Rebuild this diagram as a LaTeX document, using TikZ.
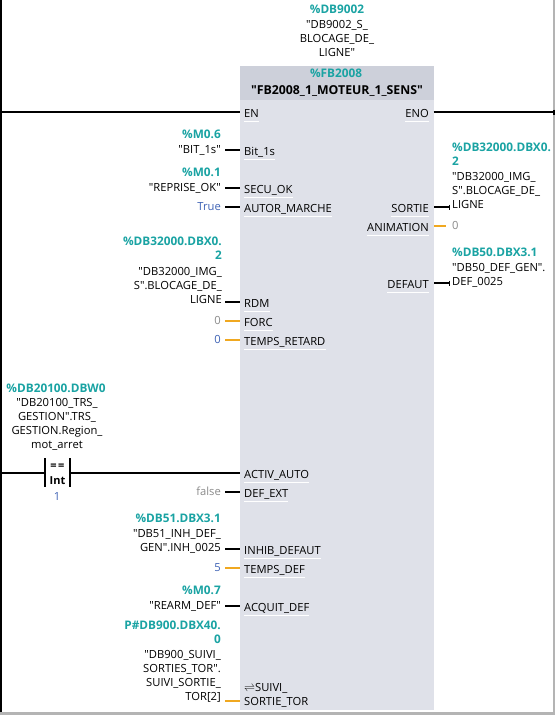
\documentclass[tikz,border=0pt]{standalone}
\usepackage{fontspec}
\defaultfontfeatures[\rmfamily]{}
\setmainfont{Open Sans}
\definecolor{blockgrey}{HTML}{DFE1E9}
\definecolor{headgrey}{HTML}{CDD0DA}
\definecolor{addrteal}{HTML}{1AA3A3}
\definecolor{constblue}{HTML}{3F63B5}
\definecolor{defgrey}{HTML}{8A8A8A}
\definecolor{pinorange}{HTML}{F0A820}
\definecolor{railgrey}{HTML}{B4B4B4}
\tikzset{
  pin/.style={font=\fontsize{11.2}{14}\selectfont, anchor=base west, inner sep=0pt},
  pinout/.style={pin, anchor=base east},
  addr/.style={font=\fontsize{11.8}{14}\selectfont\bfseries, text=addrteal, inner sep=0pt, align=right},
  sym/.style={font=\fontsize{11.2}{14}\selectfont, inner sep=0pt, align=right},
  wirebool/.style={line width=1.6pt},
  wirenum/.style={line width=1.6pt, pinorange}
}
\begin{document}
\begin{tikzpicture}[x=1pt, y=-1pt]
  \useasboundingbox (0,0) rectangle (555,715);

  % ============ Rails ============
  \fill[black] (0,0) rectangle (2,712);
  \fill[railgrey] (553,0) rectangle (555,712);
  \fill[railgrey] (0,712) rectangle (555,715);

  % ============ Block ============
  \fill[blockgrey] (240,66) rectangle (433.5,710);
  \fill[headgrey] (240,66) rectangle (433.5,100);
  \node[addr, anchor=base] (fbaddr) at (336,77) {\%FB2008};
  \node[font=\fontsize{12.3}{14}\selectfont\bfseries, inner sep=0pt, anchor=base] (fbname) at (337,94) {"FB2008\_1\_MOTEUR\_1\_SENS"};
  \node[addr, anchor=base] (dbaddr) at (337,13) {\%DB9002};
  \node[sym, align=center, anchor=north] (dbname) at (337,20) {"DB9002\_S\_\\BLOCAGE\_DE\_\\LIGNE"};

  % ============ Pins on the left ============
  \node[pin] (en) at (244,117) {EN};
  \node[pin] (bit) at (244,155) {Bit\_1s};
  \node[pin] (secu) at (244,193) {SECU\_OK};
  \node[pin] (autor) at (244,212) {AUTOR\_MARCHE};
  \node[pin] (rdm) at (244,307) {RDM};
  \node[pin] (forc) at (244,326) {FORC};
  \node[pin] (tempsr) at (244,345) {TEMPS\_RETARD};
  \node[pin] (activ) at (244,478) {ACTIV\_AUTO};
  \node[pin] (defext) at (244,497) {DEF\_EXT};
  \node[pin] (inhib) at (244,554) {INHIB\_DEFAUT};
  \node[pin] (tempsd) at (244,573) {TEMPS\_DEF};
  \node[pin] (acquit) at (244,611) {ACQUIT\_DEF};
  \node[pin, align=left, anchor=north west] (suivi) at (244,683) {$\rightleftharpoons$SUIVI\_\\SORTIE\_TOR};

  % ============ Pins on the right ============
  \node[pinout] (eno) at (429,117) {ENO};
  \node[pinout] (sortie) at (429,212) {SORTIE};
  \node[pinout] (anim) at (429,231) {ANIMATION};
  \node[pinout] (defaut) at (429,288) {DEFAUT};

  % white edit marks below the pin names
  \foreach \pinname in {en,bit,secu,autor,rdm,forc,tempsr,activ,defext,inhib,tempsd,acquit,eno,sortie,anim,defaut} {
    \draw[white, line width=0.5pt] ([yshift=-4pt]\pinname.base west) -- ([yshift=-4pt]\pinname.base east);
  }

  % ============ Left operands ============
  \node[addr, anchor=base east] (m06) at (221,138) {\%M0.6};
  \node[sym, anchor=base east] (bit1s) at (221,153) {"BIT\_1s"};
  \node[addr, anchor=base east] (m01) at (221,176) {\%M0.1};
  \node[sym, anchor=base east] (reprise) at (221,191) {"REPRISE\_OK"};
  \node[sym, anchor=base east, text=constblue] (vtrue) at (221,210) {True};
  \node[addr, anchor=north east] (db32a) at (222,236.5) {\%DB32000.DBX0.\\2};
  \node[sym, anchor=north east] (img) at (222,267) {"DB32000\_IMG\_\\S".BLOCAGE\_DE\_\\LIGNE};
  \node[sym, anchor=base east, text=defgrey] (v0a) at (221,324) {0};
  \node[sym, anchor=base east, text=constblue] (v0b) at (221,343) {0};
  \node[sym, anchor=base east, text=defgrey] (vfalse) at (221,495) {false};
  \node[addr, anchor=base east] (db51) at (221,522) {\%DB51.DBX3.1};
  \node[sym, anchor=north east] (inh) at (221,529) {"DB51\_INH\_DEF\_\\GEN".INH\_0025};
  \node[sym, anchor=base east, text=constblue] (v5) at (221,571) {5};
  \node[addr, anchor=base east] (m07) at (221,594) {\%M0.7};
  \node[sym, anchor=base east] (rearm) at (221,609) {"REARM\_DEF"};
  \node[addr, anchor=north east] (p900) at (221,620.5) {P\#DB900.DBX40.\\0};
  \node[sym, anchor=north east] (suivitor) at (221,650) {"DB900\_SUIVI\_\\SORTIES\_TOR".\\SUIVI\_SORTIE\_\\TOR[2]};

  % ============ Right operands ============
  \node[addr, align=left, anchor=north west] (db32b) at (452,142.5) {\%DB32000.DBX0.\\2};
  \node[sym, align=left, anchor=north west] (imgout) at (452,172) {"DB32000\_IMG\_\\S".BLOCAGE\_DE\_\\LIGNE};
  \node[sym, anchor=base west, text=defgrey] (v0c) at (452,229.5) {0};
  \node[addr, anchor=base west] (db50) at (452,256) {\%DB50.DBX3.1};
  \node[sym, align=left, anchor=north west] (defgen) at (452,263) {"DB50\_DEF\_GEN".\\DEF\_0025};

  % ============ Compare box ============
  \node[addr, anchor=base] (db20) at (56,392) {\%DB20100.DBW0};
  \node[sym, align=center, anchor=north] (trs) at (57,398.5) {"DB20100\_TRS\_\\GESTION".TRS\_\\GESTION.Region\_\\mot\_arret};
  \node[font=\fontsize{11}{11}\selectfont\bfseries, inner sep=0pt, anchor=base] (eq) at (57.5,469) {=\kern1.5pt=};
  \node[font=\fontsize{11}{11}\selectfont\bfseries, inner sep=0pt, anchor=base] (cmpint) at (57.5,484) {Int};
  \node[sym, anchor=base, text=constblue] (v1) at (57,500) {1};
  \coordinate (cmpl) at (45,473);
  \coordinate (cmpr) at (70,473);
  \draw[wirebool] (45,458) -- (45,487);
  \draw[wirebool] (70,458) -- (70,487);

  % ============ Wires ============
  \coordinate (railL) at (2,112);
  \coordinate (railR) at (554,112);
  \coordinate (railcmp) at (2,473);
  \coordinate (blockL) at (240,112);
  \coordinate (blockR) at (433.5,112);
  \coordinate (blockA) at (240,473);
  \draw[wirebool] (railL) -- (blockL);
  \draw[wirebool] (blockR) -- (railR);
  \draw[wirebool] (554,109.5) -- (554,114.5);
  \draw[wirebool] (railcmp) -- (cmpl);
  \draw[wirebool] (cmpr) -- (blockA);
  \foreach \py in {150,188,207,302,492,549,606} {
    \draw[wirebool] (225,\py) -- (240,\py);
  }
  \foreach \py in {321,340,568,701} {
    \draw[wirenum] (225,\py) -- (240,\py);
  }
  \foreach \py in {207,283} {
    \draw[wirebool] (434,\py) -- (449,\py);
    \draw[line width=1pt] (449,\py-2.5) -- (449,\py+2.5);
  }
  \draw[wirenum] (434,226) -- (446,226);
\end{tikzpicture}
\end{document}
